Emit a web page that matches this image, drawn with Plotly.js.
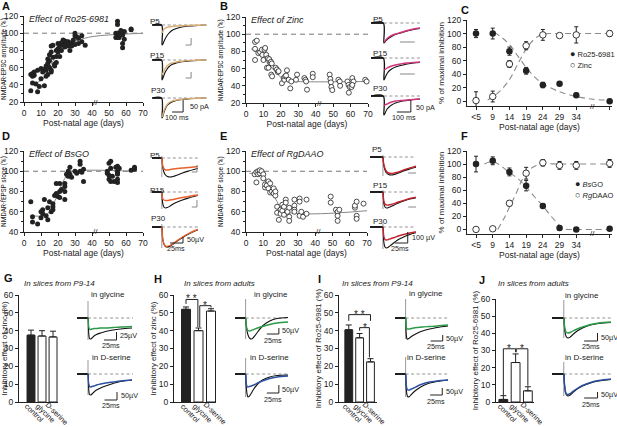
<!DOCTYPE html>
<html><head><meta charset="utf-8">
<script src="https://cdn.plot.ly/plotly-3.0.1.min.js"></script>
<style>body{margin:0;background:#fff}#g{width:617px;height:427px}</style>
</head><body><div id="g"></div>
<script>
// ================= DATA =================
// Panel A: Ro25-6981 effect (age in days, % amplitude)
const aPoints = [[4,33],[4,52],[5,42],[5,53],[5,50],[6,55],[6,51],[7,41],[8,57],[8,32],[9,38],[10,47],[10,59],[11,55],[12,58],[12,39],[13,50],[13,62],[13,57],[14,52],[14,65],[14,70],[15,60],[15,75],[15,68],[16,78],[16,55],[16,57],[16,85],[17,86],[17,72],[18,64],[18,62],[19,66],[19,80],[19,73],[20,82],[20,78],[20,88],[21,85],[21,73],[22,80],[22,89],[23,92],[23,86],[24,88],[24,91],[24,84],[25,87],[25,90],[26,90],[26,85],[27,80],[27,86],[28,89],[28,85],[29,92],[30,97],[30,87],[30,100],[31,96],[32,94],[32,88],[34,90],[34,97],[36,86],[54,100],[54,95],[55,114],[55,110],[55,100],[55,100],[55,95],[56,95],[56,100],[57,103],[58,98],[58,88],[58,83],[59,93],[59,102],[63,104],[63,105]];
const aFitX = [4,8,10,12,14,16,18,20,24,28,32,40,50,60,70];
const aFitY = [43,43,45,49,56,64,71,77,84,89,92,96,98,99,100];
// Panel B: Zinc effect
const bPoints = [[5.2,91],[6.2,92.5],[5.2,83],[5.2,70],[7.1,78],[8.1,79],[9.1,82],[9.4,76],[10,70],[10.6,82],[11,84],[11.6,76],[12.5,72],[13.3,71],[12,61],[12.9,61],[13.9,66.5],[14.3,68],[14.8,66],[14.5,53],[15,51],[17,61],[17.7,59],[18.3,56],[18.7,57],[20.6,43],[21.6,49],[22,47],[22.5,51],[23,52],[23.5,58],[24.5,47],[25.4,37],[26,45],[28.7,47],[29.3,53],[33.5,49],[34.1,47],[34.5,45],[35,35.5],[38.3,54],[38.3,50],[48,53],[48.4,48],[48.7,44],[49,38.6],[49.5,35],[53,47],[53.8,45],[54,40],[58.2,45],[58.8,41],[59.5,38.6],[59,32],[60.5,38.6],[61,49],[61.7,45],[61,41],[68.4,47],[69.2,45]];
const bFitX = [3,8,12,16,20,24,28,70];
const bFitY = [83,76,67,58,50,46,45,45];
// Panel C: % of maximal inhibition
const cCats = ["<5","9","14","19","24","29","34","50-70"];
const cPos = [0,1,2,3,4,5,6,8];
const roMean = [100,100,74,45,24,26,9,0];
const roErr = [6,8,6,5,4,2,3,2];
const znMean = [1,7,55,82,98,97,98,100];
const znErr = [13,8,5,6,8,2,12,4];
const roFitX = [1.1,1.5,2,2.5,3,3.5,4,5,6,7,8];
const roFitY = [102,95,84,67,50,36,26,14,7,3,1.5];
const znFitX = [0.7,1.3,2,2.5,3,3.5,4,5,6,7,8];
const znFitY = [2,12,32,55,77,92,99,100,100,100,100];
// Panel D: BsGO effect
const dPoints = [[4,70],[5,55],[5,50],[8,48],[10,54],[10,60],[11,58],[11,62],[12,72],[13,56],[14,64],[14,52],[15,70],[16,60],[17,62],[17,65],[17,68],[18,76],[19,78],[19,88],[20,75],[21,88],[21,80],[21,74],[22,82],[24,88],[24,72],[24,80],[24,85],[25,97],[26,95],[26,100],[27,104],[27,97],[28,94],[30,100],[31,98],[33,110],[33,107],[33,100],[34,99],[35,90],[35,102],[49,98],[49,100],[50,92],[50,96],[50,108],[51,110],[51,103],[51,90],[52,95],[53,90],[54,104],[55,97],[55,100],[55,105],[55,98],[55,92],[55,89],[56,103],[63,101],[65,102],[65,104]];
const dFitX = [4,12,14,16,18,20,22,24,26,28,65];
const dFitY = [56,56,58,63,70,78,86,93,98,100,100];
// Panel E: RgDAAO effect
const ePoints = [[5,97],[6,89],[6,99],[7,100],[7,97],[8,98],[8,101],[9,100],[10,97],[10,93],[11,84],[11,87],[12,86],[13,90],[13,83],[14,88],[14,79],[15,80],[16,83],[16,78],[17,76],[17,80],[18,65],[18,59],[19,52],[20,62],[20,58],[21,67],[21,61],[22,65],[22,57],[23,72],[23,69],[24,60],[25,55],[25,51],[25,64],[28,72],[28,66],[28,62],[28,60],[31,73],[31,70],[31,56],[32,60],[33,55],[35,72],[35,58],[49,75],[49,69],[52,62],[53,60],[53,56],[53,51],[54,62],[63,64],[63,66],[64,70],[64,56],[64,53],[68,68]];
const eFitX = [2,5,9,12,15,18,21,70];
const eFitY = [98,98,98,88,79,70,61,61];
// Panel F
const bsMean = [100,105,88,67,36,2,0,1];
const bsErr = [12,6,6,8,3,3,1,2];
const rgMean = [0,1,40,86,102,98,98,101];
const rgErr = [2,3,4,9,5,6,6,6];
const bsFitX = [0.5,1,1.5,2,2.5,3,3.5,4,4.5,5,5.2,6,7,8];
const bsFitY = [100,104,97,87,78,65,50,36,20,6,1,0,0,0];
const rgFitX = [1.3,1.7,2,2.4,2.7,3,3.4,3.9,5,6,7,8];
const rgFitY = [0,18,34,55,73,86,95,100,100,100,100,100];
// Panels G-J bars
const barCats = ["control","glycine","D-serine"];
const gVals = [37.5,37,36.5], gErr = [2.8,3,3.2];
const hVals = [52,40,51],     hErr = [1.3,1.5,1.3];
const iVals = [40.5,36,22.5], iErr = [2.7,2.4,1.8];
const jVals = [1.5,23,6.5],   jErr = [2.2,5,2.4];
const hSig = [{a:0,b:0.95,y:57.5,ya:55,yb:42,t:"* *"},{a:1.1,b:2,y:54,ya:42,yb:53,t:"*"}];
const iSig = [{a:0,b:2,y:49,ya:45.5,yb:45.5,t:"* *"},{a:1,b:1.9,y:41.7,ya:40,yb:25,t:"*"}];
const jSig = [{a:0,b:1,y:31,ya:4,yb:29,t:"*"},{a:1.05,b:2,y:31,ya:29,yb:9.5,t:"*"}];
// Example traces (time in ms, amplitude relative to baseline)
const tEPSC_A = [-90,-5,0,8,15,25,40,60,90,130,180,250,330,400];
const a5k = [0,0,-20,-19,-17,-14.5,-11.5,-8.5,-5.5,-3.5,-2,-1,-0.5,0];
const a5c = [0,0,-8,-6,-4.5,-3.5,-2.5,-2,-1.5,-1,-0.7,-0.4,-0.2,0];
const a15k = [0,0,-20,-18,-16,-13,-10,-7,-4.5,-3,-1.8,-1,-0.4,0];
const a15c = [0,0,-15,-13,-11,-9,-6.5,-4.5,-3,-2,-1.2,-0.6,-0.3,0];
const a30k = [0,0,-20,-18,-15,-12,-8.5,-6,-4,-2.5,-1.5,-0.8,-0.3,0];
const a30c = [0,0,-19,-16.5,-13.5,-10.5,-7.5,-5,-3.2,-2,-1.2,-0.6,-0.2,0];
const tEPSC_B = [-100,-5,0,8,15,25,40,60,90,130,180,230,280];
const b5k = [0,0,-20,-19,-18,-16.5,-15,-13.5,-11.5,-10,-8,-6.5,-5.5];
const b5c = [0,0,-19,-18,-17,-15.5,-14,-12.5,-11,-9.5,-7.5,-6,-5];
const b15k = [0,0,-22,-20,-18,-15.5,-13,-11,-9,-7.5,-6,-5,-4.5];
const b15c = [0,0,-12,-11.5,-11,-10,-9,-8,-7,-6,-5,-4.5,-4];
const b30k = [0,0,-19,-17.5,-15.5,-13,-11,-9,-7,-5.5,-4.5,-3.5,-3];
const b30c = [0,0,-9.5,-9,-8.5,-8,-7,-6,-5,-4.5,-4,-3.5,-3];
const tEPSP = [-25,-1,0,1,2,4,7,11,16,22,30,40,52,62,70];
const d5k = [0,0,0,-6,-10,-14,-17,-18.5,-19,-18.5,-17,-15,-13,-11.5,-10.5];
const d5c = [0,0,0,-5,-8,-10.5,-12,-12,-11.5,-11,-10.5,-10,-9.5,-9,-8.5];
const d15k = [0,0,0,-8,-12,-15,-16,-15.5,-14,-12,-10,-8,-6,-4.5,-3.5];
const d15c = [0,0,0,-5,-7,-8,-8.5,-8.5,-8,-7.5,-6.5,-5.5,-4.5,-3.5,-3];
const d30k = [0,0,0,-8,-13,-17,-19.5,-20,-19,-17,-14,-10.5,-7,-4.5,-3];
const d30c = [0,0,0,-7.5,-12.5,-16.5,-19,-19.5,-18.5,-16.5,-13.5,-10,-6.5,-4,-2.5];
const e5k = [0,0,0,-6,-9,-13,-16,-17.5,-18,-17.5,-16,-14,-12,-10.5,-9.5];
const e5c = [0,0,0,-5,-8,-11.5,-14.5,-16,-16.5,-16,-15,-13,-11,-9.5,-8.5];
const e15k = [0,0,0,-8,-12,-15,-16,-15.5,-14.5,-13,-11,-9,-7,-6,-5];
const e15c = [0,0,0,-6,-9.5,-12,-13,-13,-12.5,-11.5,-10,-8.5,-6.5,-5.5,-4.5];
const e30k = [0,0,0,-10,-16,-20,-21,-20,-18,-15.5,-12.5,-10,-7.5,-6,-5];
const e30c = [0,0,0,-6,-10,-12.5,-13,-12.5,-11.5,-10.5,-9,-7.5,-6,-5,-4.5];
const tB = [-22,-1,0,1,2,3,5,8,12,17,25,35,50,65,88];
const gGk = [0,0,0,-12,-18,-20.5,-21,-20,-18,-16.5,-15,-13.5,-12,-11,-10];
const gGc = [0,0,0,-7,-10,-11,-11.5,-11,-10.5,-10.5,-10,-10,-9.5,-9,-8.5];
const gDk = [0,0,0,-12,-18,-20.5,-21,-20,-18,-16,-14,-12,-9.5,-7.5,-6];
const gDc = [0,0,0,-8,-11,-12.5,-13,-12.5,-12,-11,-10,-9,-8,-7,-6];
const hGk = [0,0,0,-6,-10,-13,-17,-20,-21,-19,-14,-8,-3,-0.5,0.5];
const hGc = [0,0,0,-6,-9,-11,-12.5,-13,-12.5,-11.5,-10,-8.5,-6.5,-5,-4];
const hDk = [0,0,0,-10,-16,-20,-23,-22,-19,-15,-10,-6,-3,-1.5,-1];
const hDc = [0,0,0,-8,-11,-12.5,-13,-12.5,-12,-11,-9,-7,-4.5,-3,-2];
const iGk = [0,0,0,-14,-19,-21,-21,-20,-18.5,-17,-15,-13,-11,-9.5,-8];
const iGc = [0,0,0,-8,-10,-11,-11,-11,-10.5,-10,-9.5,-9,-8.5,-8,-7];
const iDk = [0,0,0,-12,-18,-21,-23,-22.5,-20.5,-18,-15,-12,-9,-7.5,-6];
const iDc = [0,0,0,-9,-13,-15,-16,-16,-15,-14,-12,-10,-8,-7,-6];
const jGk = [0,0,0,-8,-13,-16,-19,-20,-19,-16.5,-13,-10,-7,-5.5,-4.5];
const jGc = [0,0,0,-6,-10,-12.5,-14.5,-15,-14.5,-13,-11,-9,-6.5,-5,-4];
const jDk = [0,0,0,-9,-14,-18,-21,-22,-21,-18.5,-15,-12,-9,-7,-5.5];
const jDc = [0,0,0,-8,-13,-17,-20,-20.5,-19.5,-17.5,-14.5,-11.5,-8.5,-6.5,-5];

// ================= LAYOUT HELPERS =================
const W = 617, H = 427;
const FONT = "Liberation Sans Narrow, Arial Narrow, Liberation Sans, Arial, sans-serif";
const FONTT = "Roboto, Liberation Sans, Arial, sans-serif";
const FONTB = "Liberation Sans, Arial, sans-serif";
const INK = '#222';
const layout = {width:W, height:H, margin:{l:0,r:0,t:0,b:0}, paper_bgcolor:'#fff', plot_bgcolor:'rgba(0,0,0,0)',
  showlegend:false, hovermode:false, font:{family:FONT, size:9, color:INK}, shapes:[], annotations:[]};
const data = [];
let nAx = 0;
function addAxes(xb, yb, xo, yo){
  nAx++;
  const s = nAx === 1 ? '' : String(nAx);
  layout['xaxis'+s] = Object.assign({domain:[xb[0]/W, xb[1]/W], anchor:'y'+s, fixedrange:true}, xo);
  layout['yaxis'+s] = Object.assign({domain:[1-yb[1]/H, 1-yb[0]/H], anchor:'x'+s, fixedrange:true}, yo);
  return {x:'x'+s, y:'y'+s};
}
function st(extra){
  return Object.assign({showline:true, linecolor:INK, linewidth:1, ticks:'outside', ticklen:3, tickwidth:1, tickcolor:INK,
    showgrid:false, zeroline:false, tickfont:{size:8.5, family:FONT, color:INK}}, extra);
}
function ttl(text, standoff, size, fam){ return {text:text, font:{size:size||8.5, family:fam||FONT, color:INK}, standoff:standoff}; }
function ann(o){ layout.annotations.push(Object.assign({showarrow:false, font:{size:8.5, family:FONT, color:INK}}, o)); }
function pann(px, py, text, o){ ann(Object.assign({xref:'paper', yref:'paper', x:px/W, y:1-py/H, text:text, xanchor:'left', yanchor:'middle'}, o||{})); }
function line(ax, x0,y0,x1,y1,color,w,dash){ layout.shapes.push({type:'line', xref:ax.x, yref:ax.y, x0,y0,x1,y1, line:{color:color||INK, width:w||1, dash:dash||'solid'}}); }

// ---------- scatter panels ----------
function scatterPanel(xb, yb, yr, pts, fx, fy, filled, ytitle, label){
  const ax = addAxes(xb, yb,
    st({range:[0,70], dtick:10, tick0:0, title:ttl('Post-natal age (days)', 2)}),
    st({range:yr, dtick:20, tick0:0, minor:{ticks:'outside', ticklen:2, dtick:10, tickcolor:INK}, title:ttl(ytitle, 1, 6.5, FONTT)}));
  data.push({x:[0,70], y:[100,100], xaxis:ax.x, yaxis:ax.y, mode:'lines', line:{color:'#777', width:1, dash:'5px,4px'}});
  data.push({x:fx, y:fy, xaxis:ax.x, yaxis:ax.y, mode:'lines', line:{color:'#888', width:1, shape:'spline'}});
  data.push({x:pts.map(p=>p[0]), y:pts.map(p=>p[1]), xaxis:ax.x, yaxis:ax.y, mode:'markers', cliponaxis:false,
    marker:{size:5, color: filled ? INK : '#fff', line:{color:INK, width: filled?0:0.8}}});
  ann({xref:ax.x, yref:ax.y, x:42, y:yr[0], text:'//', font:{size:8, family:FONT, color:INK}});
  ann({xref:ax.x, yref:ax.y, x:2, y:yr[1]-3, text:'<i>'+label+'</i>', xanchor:'left', yanchor:'middle', font:{size:9, family:FONT, color:INK}});
  return ax;
}
scatterPanel([24,143],[16,102],[20,120],aPoints,aFitX,aFitY,true,'NMDAR-EPSC amplitude (%)','Effect of Ro25-6981');
scatterPanel([246,368],[17,103],[20,120],bPoints,bFitX,bFitY,false,'NMDAR-EPSC amplitude (%)','Effect of Zinc');
scatterPanel([24,143],[151,232],[40,120],dPoints,dFitX,dFitY,true,'NMDAR-fEPSP slope (%)','Effect of BsGO');
scatterPanel([246,367],[151,232],[40,120],ePoints,eFitX,eFitY,false,'NMDAR-fEPSP slope (%)','Effect of RgDAAO');

// ---------- inhibition time courses ----------
function inhibPanel(xb, yb, m1, e1, m2, e2, f1x, f1y, f2x, f2y, leg1, leg2, legPos){
  const ax = addAxes(xb, yb,
    st({range:[-0.54,8.14], tickvals:cPos, ticktext:cCats, title:ttl('Post-natal age (days)', 1)}),
    st({range:[-7,120], tickvals:[0,20,40,60,80,100,120], title:ttl('% of maximal inhibition', 1, 8)}));
  data.push({x:f1x, y:f1y, xaxis:ax.x, yaxis:ax.y, mode:'lines', line:{color:'#8a8a8a', width:1.1, dash:'6px,4px', shape:'spline'}});
  data.push({x:f2x, y:f2y, xaxis:ax.x, yaxis:ax.y, mode:'lines', line:{color:'#8a8a8a', width:1.1, dash:'6px,4px', shape:'spline'}});
  data.push({x:cPos, y:m2, xaxis:ax.x, yaxis:ax.y, mode:'markers', cliponaxis:false,
    error_y:{type:'data', array:e2, color:INK, thickness:1, width:2},
    marker:{size:6.5, color:'#fff', line:{color:INK, width:0.9}}});
  data.push({x:cPos, y:m1, xaxis:ax.x, yaxis:ax.y, mode:'markers', cliponaxis:false,
    error_y:{type:'data', array:e1, color:INK, thickness:1, width:2},
    marker:{size:6.5, color:INK}});
  ann({xref:ax.x, yref:ax.y, x:7, y:-7, text:'//', font:{size:8, family:FONT, color:INK}});
  pann(legPos[0], legPos[1], '<span style="font-size:9px">●</span> '+leg1, {font:{size:7.5, family:FONT, color:INK}});
  pann(legPos[0], legPos[1]+11, '<span style="font-size:9px">○</span> '+leg2, {font:{size:7.5, family:FONT, color:INK}});
  return ax;
}
inhibPanel([467,612],[20,106],roMean,roErr,znMean,znErr,roFitX,roFitY,znFitX,znFitY,'Ro25-6981','Zinc',[568,54]);
inhibPanel([467,612],[151,234],bsMean,bsErr,rgMean,rgErr,bsFitX,bsFitY,rgFitX,rgFitY,'<i>Bs</i>GO','<i>Rg</i>DAAO',[573,184]);

// ---------- bar panels ----------
function barPanel(xb, yb, xr, vals, errs, ytitle, sig, sub, subX){
  const ax = addAxes(xb, yb,
    st({range:xr, tickvals:[0,1,2], ticks:'', showticklabels:false}),
    st({range:[0,60], dtick:10, tick0:0, title:ttl(ytitle, 1, 8)}));
  data.push({type:'bar', x:[0,1,2], y:vals, xaxis:ax.x, yaxis:ax.y, width:0.72,
    marker:{color:[INK,'#fff','#fff'], line:{color:INK, width:1}},
    error_y:{type:'data', array:errs, arrayminus:[0,0,0], symmetric:false, color:INK, thickness:1, width:3}});
  barCats.forEach((c,k)=>{
    ann({xref:ax.x, yref:'paper', x:k+0.35, y:1-413/H, text:c, textangle:45, xanchor:'center', yanchor:'middle',
      font:{size:7.5, family:FONT, color:INK}});
  });
  (sig||[]).forEach(s=>{
    line(ax, s.a, s.y, s.b, s.y); line(ax, s.a, s.y, s.a, s.ya); line(ax, s.b, s.y, s.b, s.yb);
    ann({xref:ax.x, yref:ax.y, x:(s.a+s.b)/2, y:s.y+0.3, text:s.t, yanchor:'middle', font:{size:10, family:FONTB, color:INK}});
  });
  pann(subX, 283, '<i>'+sub+'</i>', {xanchor:'left', font:{size:8, family:FONT, color:INK}});
  return ax;
}
barPanel([19,58],[295,402],[-1.09,2.45],gVals,gErr,'Inhibitory effect of zinc (%)',null,'In slices from P9-14',22);
barPanel([174,216],[295,402],[-0.96,2.4],hVals,hErr,'Inhibitory effect of zinc (%)',hSig,'In slices from adults',182);
barPanel([339,377],[295,402],[-0.9,2.6],iVals,iErr,'Inhibitory effect of Ro25-6981 (%)',iSig,'In slices from P9-14',340);
barPanel([496,534],[299,402],[-0.6,2.5],jVals,jErr,'Inhibitory effect of Ro25-6981 (%)',jSig,'In slices from adults',496);

// ---------- example traces ----------
function mini(xb, yb, xr, yr, t, kv, cv, color, art, bar, labels){
  const ax = addAxes(xb, yb, {visible:false, range:xr}, {visible:false, range:yr});
  data.push({x:[0, xr[1]], y:[0,0], xaxis:ax.x, yaxis:ax.y, mode:'lines', line:{color:'#888', width:0.9, dash:'3px,2.5px'}});
  data.push({x:[0,0], y:art, xaxis:ax.x, yaxis:ax.y, mode:'lines', line:{color:'#999', width:1}});
  data.push({x:t, y:kv, xaxis:ax.x, yaxis:ax.y, mode:'lines', line:{color:'#111', width:1.1, shape:'spline'}});
  data.push({x:t.slice(2), y:cv.slice(2), xaxis:ax.x, yaxis:ax.y, mode:'lines', line:{color:color, width:1.4, shape:'spline'}});
  data.push({x:t.slice(0,2), y:kv.slice(0,2), xaxis:ax.x, yaxis:ax.y, mode:'lines', line:{color:'#111', width:1.8}});
  if (bar){
    const c = bar.gray ? '#888' : INK;
    if (bar.v) line(ax, bar.tx, bar.y0, bar.tx, bar.y1, c, 1);
    if (bar.h) line(ax, bar.h[0], bar.y1, bar.h[1], bar.y1, c, 1);
    if (bar.la) ann({xref:ax.x, yref:ax.y, x:bar.la[0], y:bar.la[1], text:bar.la[2], xanchor:'left', yanchor:'middle', font:{size:7.2, family:FONT, color:INK}});
    if (bar.lt) ann({xref:ax.x, yref:ax.y, x:bar.lt[0], y:bar.lt[1], text:bar.lt[2], xanchor:'center', yanchor:'middle', font:{size:7.2, family:FONT, color:INK}});
  }
  if (labels) pann(labels[0], labels[1], labels[2], {font:{size:8, family:FONT, color:INK}});
  return ax;
}
const TAN='#d9ae74', PINK='#d2347c', ORANGE='#e8602c', RED='#c2232e', GREEN='#2a9a48', BLUE='#2b4f9e';
// A
mini([152,207],[18,48],[-92,410],[-23,7],tEPSC_A,a5k,a5c,TAN,[0,-20],{gray:true,v:1,tx:265,y0:-13,y1:-20,h:[215,265]},[148,21,'P5']);
mini([152,207],[53,83],[-92,410],[-23,7],tEPSC_A,a15k,a15c,TAN,[0,-20],{gray:true,v:1,tx:265,y0:-12,y1:-18,h:[215,265]},[148,55,'P15']);
mini([152,207],[91,121],[-92,410],[-23,7],tEPSC_A,a30k,a30c,TAN,[0,-20],{v:1,tx:192,y0:-2,y1:-14,h:[91,192],la:[235,-8,'50 pA'],lt:[140,-19,'100 ms']},[149,90,'P30']);
// B
mini([371,420],[16,46],[-100,280],[-23,7],tEPSC_B,b5k,b5c,PINK,[0,-20],{gray:true,h:[124,240],y1:-19},[371,19,'P5']);
mini([371,420],[51,81],[-100,280],[-23,7],tEPSC_B,b15k,b15c,PINK,[0,-22],{gray:true,h:[124,240],y1:-16},[371,53,'P15']);
mini([371,420],[89,121],[-100,280],[-25,7],tEPSC_B,b30k,b30c,PINK,[0,-19],{v:1,tx:209,y0:-4,y1:-16,h:[101,209],la:[232,-11,'50 pA'],lt:[155,-21,'100 ms']},[371,88,'P30']);
// D
mini([152,198],[152,182],[-19,70],[-24,6],tEPSP,d5k,d5c,ORANGE,[2,-19],{gray:true,v:1,tx:68,y0:-7,y1:-14,h:[58,68]},[148,156,'P5']);
mini([152,198],[186,216],[-19,70],[-24,6],tEPSP,d15k,d15c,ORANGE,[2,-17],{gray:true,v:1,tx:68,y0:-8,y1:-15,h:[58,68]},[148,190,'P15']);
mini([152,198],[221,251],[-19,70],[-24,6],tEPSP,d30k,d30c,ORANGE,[3,-21],{v:1,tx:41,y0:-10,y1:-16,h:[16,41],la:[45,-12,'50µV'],lt:[28,-21,'25ms']},[149,218,'P30']);
// E
mini([370,416],[151,181],[-25,64],[-24,6],tEPSP,e5k,e5c,RED,[2,-19],{gray:true,h:[49,64],y1:-16},[370,150,'P5']);
mini([370,416],[186,216],[-25,64],[-24,6],tEPSP,e15k,e15c,RED,[2,-17],{gray:true,h:[49,64],y1:-15},[371,185,'P15']);
mini([370,416],[221,251],[-25,64],[-24,6],tEPSP,e30k,e30c,RED,[3,-22],{v:1,tx:48,y0:-5,y1:-16,h:[23,48],la:[52,-10,'100 µV'],lt:[33,-21,'25ms']},[371,221,'P30']);
// G-J
const GLY = [296,352], GLYR = [-34,22], DS = [353,409], DSR = [-35,21];
mini([77,133],GLY,[-22,90],GLYR,tB,gGk,gGc,GREEN,[17,-22],{v:1,tx:57,y0:-14,y1:-22,h:[32,57],la:[60,-17,'25µV'],lt:[45,-27,'25ms']},[89,294,'in glycine']);
mini([77,133],DS,[-22,90],DSR,tB,gDk,gDc,BLUE,[14,-21],{v:1,tx:58,y0:-18,y1:-26,h:[33,58],la:[61,-21,'50µV'],lt:[45,-31,'25ms']},[90,357,'in D-serine']);
mini([235,289],GLY,[-22,90],GLYR,tB,hGk,hGc,GREEN,[19,-21],{v:1,tx:69,y0:-10,y1:-16,h:[44,69],la:[72,-12,'50µV'],lt:[56,-22,'25ms']},[252,294,'in glycine']);
mini([235,289],DS,[-22,90],DSR,tB,hDk,hDc,BLUE,[16,-23],{v:1,tx:69,y0:-11,y1:-19,h:[44,69],la:[72,-15,'50µV'],lt:[56,-25,'25ms']},[248,357,'in D-serine']);
mini([395,449],GLY,[-22,90],GLYR,tB,iGk,iGc,GREEN,[19,-21],{v:1,tx:77,y0:-17,y1:-23,h:[52,77],la:[80,-20,'50µV'],lt:[64,-28,'25ms']},[407,293,'in glycine']);
mini([395,449],DS,[-22,90],DSR,tB,iDk,iDc,BLUE,[17,-23],{v:1,tx:76,y0:-14,y1:-21,h:[51,76],la:[79,-17,'50µV'],lt:[62,-27,'25ms']},[405,357,'in D-serine']);
mini([552,612],GLY,[-22,90],GLYR,tB,jGk,jGc,GREEN,[18,-20],{v:1,tx:63,y0:-15,y1:-23,h:[38,63],la:[65,-19,'50µV'],lt:[50,-28,'25ms']},[563,295,'in glycine']);
mini([552,612],DS,[-22,90],DSR,tB,jDk,jDc,BLUE,[12,-22],{v:1,tx:63,y0:-18,y1:-24,h:[38,63],la:[65,-20,'50µV'],lt:[50,-30,'25ms']},[563,357,'in D-serine']);

// ---------- panel letters ----------
const letters = [['A',0,6],['B',218,6],['C',459,10],['D',0,136],['E',218,136],['F',459,136],['G',2,278],['H',152,279],['I',316,279],['J',477,280]];
letters.forEach(l=>pann(l[1], l[2], '<b>'+l[0]+'</b>', {font:{size:11, family:FONTB, color:'#111'}}));

Plotly.newPlot('g', data, layout, {staticPlot:true, displayModeBar:false});
</script></body></html>
